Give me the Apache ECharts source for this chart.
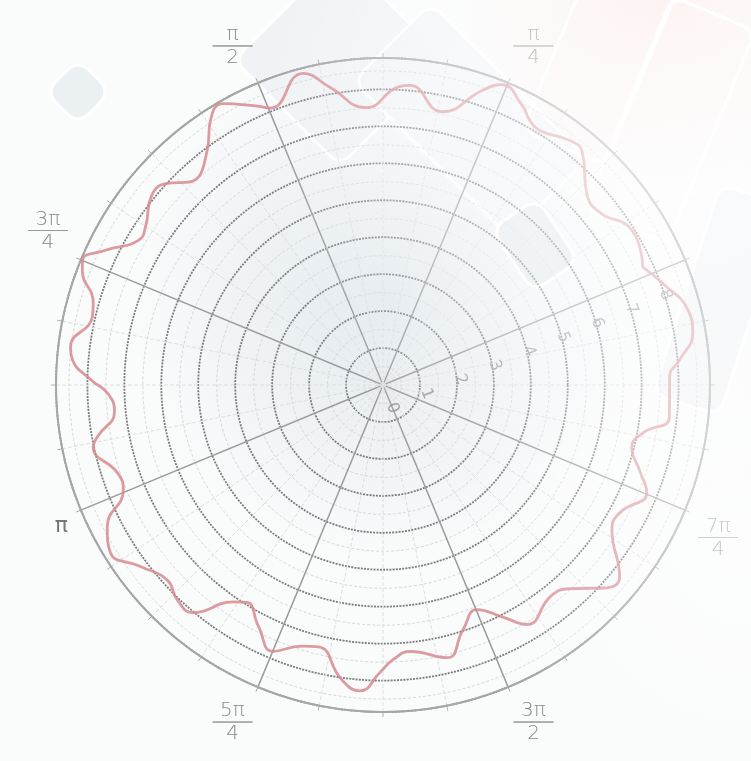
<!DOCTYPE html>
<html>
<head>
<meta charset="utf-8">
<style>
  html, body { margin: 0; padding: 0; background: #fafbfb; }
  #chart { width: 751px; height: 761px; }
</style>
<script src="https://cdn.jsdelivr.net/npm/echarts@6/dist/echarts.min.js"></script>
</head>
<body>
<div id="chart"></div>
<script>
// angle in degrees measured from the "0" direction, radius in axis units
var curveAngle = [1.9, 9.5, 16, 20.5, 27, 30, 35.9, 38.5, 41, 46,
  48.8, 55.3, 62.4, 64.5, 71, 77.5, 81.9, 89.6, 92, 97.1,
  100.6, 104.3, 111, 114.5, 118.5, 123.5, 126.9, 131.6, 134.9, 136.6,
  141.7, 144.3, 150.6, 152.9, 156.5, 159.2, 163.1, 167.8, 169.6, 175.8,
  179.5, 184.7, 189.1, 194.3, 199.6, 203.7, 207.7, 212.9, 215.5, 220.2,
  225.1, 230.2, 233.7, 239.5, 243.2, 246.9, 249.6, 253.3, 260.7, 265.6,
  270.2, 274.8, 278.5, 286, 290, 295.3, 298.5, 305.2, 309.1, 315.3,
  318.8, 323.5, 327, 331.1, 339.1, 342.3, 347, 351.3, 357.5, 361.9];
var curveRadius = [7.72, 7.93, 7.5, 7.55, 8.3, 8.33, 8.09, 8.19, 8.45, 8.74,
  8.42, 7.57, 8.14, 8.08, 7.52, 8.17, 8.71, 8.09, 8.3, 8.76,
  8.55, 7.94, 7.58, 8.0, 8.08, 7.74, 7.69, 8.35, 8.81, 8.71,
  8.15, 8.08, 8.52, 8.43, 7.9, 7.46, 7.3, 7.86, 8.02, 7.57,
  7.58, 8.39, 8.66, 8.2, 7.87, 8.05, 8.02, 7.13, 6.94, 7.35,
  7.8, 7.4, 7.3, 8.05, 8.3, 7.78, 7.44, 7.25, 7.58, 6.97,
  6.59, 7.07, 7.56, 7.3, 7.48, 8.17, 8.24, 7.33, 7.28, 7.71,
  7.35, 6.94, 7.15, 7.8, 7.76, 8.05, 8.5, 8.5, 8.05, 7.72];

// angle tick labels every 45 degrees (0, 45, ... 360)
var angleNum = ['', 'π', 'π', '3π', 'π', '5π', '3π', '7π', ''];
var angleDen = ['', '4', '2', '4', '', '4', '2', '4', ''];

var radiusMax = 8.85;

var chart = echarts.init(document.getElementById('chart'), null, { renderer: 'canvas' });

function diamond(cx, cy, w, h, rot, fill, stroke, op) {
  return {
    type: 'rect', z: -10, silent: true,
    x: cx, y: cy, rotation: rot,
    shape: { x: -w / 2, y: -h / 2, width: w, height: h, r: 14 },
    style: { fill: fill, stroke: stroke, lineWidth: 3, opacity: op }
  };
}

chart.setOption({
  animation: false,
  backgroundColor: '#fafbfb',
  graphic: [
    // soft glow behind the middle of the plot
    { type: 'circle', z: -20, silent: true, shape: { cx: 390, cy: 300, r: 260 },
      style: { fill: { type: 'radial', x: 0.5, y: 0.5, r: 0.5,
        colorStops: [{ offset: 0, color: 'rgba(222,230,236,0.9)' }, { offset: 1, color: 'rgba(222,230,236,0)' }] } } },
    // pinkish tint top right
    { type: 'circle', z: -20, silent: true, shape: { cx: 660, cy: 0, r: 200 },
      style: { fill: { type: 'radial', x: 0.5, y: 0.5, r: 0.5,
        colorStops: [{ offset: 0, color: 'rgba(250,226,222,0.8)' }, { offset: 1, color: 'rgba(250,226,222,0)' }] } } },
    diamond(78, 92, 46, 46, Math.PI / 4, '#e9eef1', '#ffffff', 0.9),
    diamond(340, 60, 150, 150, Math.PI / 4, '#eef2f4', '#ffffff', 0.9),
    diamond(470, 120, 110, 220, Math.PI / 4, '#f0f3f5', '#ffffff', 0.9),
    diamond(535, 245, 55, 75, Math.PI / 4 - 0.2, '#e3e9ec', '#ffffff', 1),
    diamond(600, 60, 90, 190, -Math.PI / 8, 'rgba(0,0,0,0)', '#ffffff', 1),
    diamond(670, 120, 90, 230, -Math.PI / 8, 'rgba(0,0,0,0)', '#ffffff', 1),
    diamond(720, 300, 70, 220, -Math.PI / 10, '#f1f3f5', '#ffffff', 1),
    // white haze over the upper right
    { type: 'rect', z: 100, silent: true, shape: { x: 0, y: 0, width: 751, height: 761 },
      style: { fill: { type: 'radial', x: 0.9, y: 0.18, r: 0.55,
        colorStops: [{ offset: 0, color: 'rgba(255,255,255,0.7)' }, { offset: 0.6, color: 'rgba(255,255,255,0.4)' }, { offset: 1, color: 'rgba(255,255,255,0)' }] } } },
    { type: 'rect', z: 100, silent: true, shape: { x: 0, y: 0, width: 751, height: 761 },
      style: { fill: { type: 'radial', x: 1, y: 0.72, r: 0.35,
        colorStops: [{ offset: 0, color: 'rgba(255,255,255,0.6)' }, { offset: 1, color: 'rgba(255,255,255,0)' }] } } }
  ],
  polar: {
    center: [383, 385],
    radius: 327
  },
  angleAxis: {
    type: 'value',
    min: 0,
    max: 360,
    interval: 45,
    startAngle: 22.5,
    clockwise: false,
    axisLine: { lineStyle: { color: '#a6a6a6', width: 2 } },
    axisTick: { show: true, length: 5, lineStyle: { color: '#a6a6a6' } },
    minorTick: { show: true, splitNumber: 4, length: 5, lineStyle: { color: '#b0b0b0' } },
    splitLine: { lineStyle: { color: '#9c9c9c', width: 1.5 } },
    minorSplitLine: { show: true, lineStyle: { color: '#dedede', type: 'dashed', width: 1 } },
    axisLabel: {
      margin: 14,
      color: '#888',
      formatter: function (v) {
        var i = Math.round(v / 45);
        if (!angleNum[i]) return '';
        if (!angleDen[i]) return '{p|' + angleNum[i] + '}';
        return '{n|' + angleNum[i] + '}\n{hr|}\n{d|' + angleDen[i] + '}';
      },
      rich: {
        n: { fontSize: 20, fontFamily: 'DejaVu Sans', fontWeight: 300, color: '#888', align: 'center', lineHeight: 22 },
        p: { fontSize: 22, fontFamily: 'DejaVu Sans', color: '#777' },
        hr: { width: 40, height: 0, borderColor: '#999', borderWidth: 1, align: 'center' },
        d: { fontSize: 20, fontFamily: 'DejaVu Sans', fontWeight: 300, color: '#888', align: 'center', lineHeight: 24 }
      }
    }
  },
  radiusAxis: {
    type: 'value',
    min: 0,
    max: radiusMax,
    interval: 1,
    axisLine: { show: false },
    axisTick: { show: false },
    minorTick: { show: false, splitNumber: 2 },
    splitLine: { lineStyle: { color: '#7c7c7c', width: 1.8, type: [2, 1.2] } },
    minorSplitLine: { show: true, lineStyle: { color: '#d6d6d6', width: 1, type: [3, 2] } },
    axisLabel: {
      margin: -30,
      rotate: -67.5,
      color: '#9a9a9a',
      fontSize: 16,
      fontFamily: 'DejaVu Sans',
      formatter: function (v) { return Number.isInteger(v) ? String(v) : ''; }
    }
  },
  series: [{
    type: 'line',
    coordinateSystem: 'polar',
    smooth: 0.5,
    showSymbol: false,
    symbol: 'none',
    lineStyle: { color: '#d68a91', width: 2.8, opacity: 0.85 },
    data: curveRadius.map(function (r, i) { return [r, curveAngle[i]]; })
  }]
});
</script>
</body>
</html>
